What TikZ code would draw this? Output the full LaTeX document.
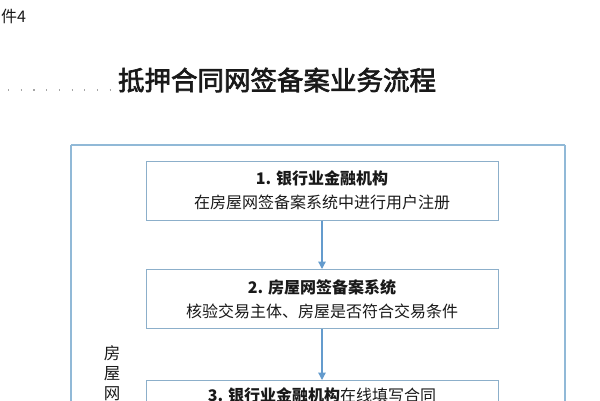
\documentclass[tikz,border=0pt]{standalone}
\usepackage{fontspec}
\setmainfont{Noto Sans CJK SC}
\newfontface\titlefont[FakeBold=2.5]{Noto Sans CJK SC}
\usepackage{tikz}
\usetikzlibrary{arrows.meta}
\definecolor{framecol}{RGB}{145,185,215}
\definecolor{boxcol}{RGB}{140,175,202}
\definecolor{arrowcol}{RGB}{100,155,205}
\definecolor{txtcol}{RGB}{25,25,25}
\pgfdeclarelayer{edgelayer}
\pgfdeclarelayer{nodelayer}
\pgfsetlayers{edgelayer,nodelayer,main}
\tikzstyle{none}=[inner sep=0pt]
\tikzstyle{empty}=[fill=none,draw=none,text=txtcol]
\tikzstyle{heading}=[empty,font=\fontsize{26.5}{30}\titlefont]
\tikzstyle{tag}=[empty,font=\fontsize{16}{18}\selectfont]
\tikzstyle{sidelabel}=[empty,inner sep=0pt,align=center,font=\fontsize{16.5}{20}\selectfont]
\tikzstyle{stepbox}=[rectangle,draw=boxcol,line width=1.000,fill=white,text=txtcol,minimum width=352,minimum height=59,align=center,font=\fontsize{16}{24}\selectfont]
\tikzstyle{flowarrow}=[-{Triangle[width=7.5pt,length=7.5pt]},draw=arrowcol,fill=arrowcol,line width=1.300]
\tikzstyle{simple}=[-,draw=framecol,line width=1.600]
\tikzstyle{dotline}=[-,draw=gray!70,line width=1.200,dash pattern=on 1.2pt off 11.5pt]

\begin{document}
\begin{tikzpicture}[x=1pt,y=-1pt]
	\useasboundingbox (0, 0) rectangle (600, 400);
	\begin{pgfonlayer}{nodelayer}
		\node [style=tag, anchor=west, inner sep=0pt] (annex) at (1, 16.5) {件4};
		\node [style=heading] (title) at (277, 80) {抵押合同网签备案业务流程};
		\node [style=none] (dotl) at (8, 90) {};
		\node [style=none] (dotr) at (118, 90) {};

		\node [style=none] (Ftl) at (71, 145) {};
		\node [style=none] (Ftr) at (565, 145) {};
		\node [style=none] (Fbl) at (71, 430) {};
		\node [style=none] (Fbr) at (565, 430) {};

		\node [style=sidelabel, anchor=north] (side) at (112, 345) {房\\屋\\网};

		\node [style=stepbox] (s1) at (322, 190.5) {\textbf{1. 银行业金融机构}\\在房屋网签备案系统中进行用户注册};
		\node [style=stepbox] (s2) at (322, 299) {\textbf{2. 房屋网签备案系统}\\核验交易主体、房屋是否符合交易条件};
		\node [style=stepbox] (s3) at (322, 410) {\textbf{3. 银行业金融机构}在线填写合同\\\strut};
	\end{pgfonlayer}
	\begin{pgfonlayer}{edgelayer}
		\draw [style=dotline] (dotl.center) to (dotr.center);
		\draw [style=simple] (Ftl.center) to (Ftr.center);
		\draw [style=simple] (Ftr.center) to (Fbr.center);
		\draw [style=simple] (Fbr.center) to (Fbl.center);
		\draw [style=simple] (Fbl.center) to (Ftl.center);
	\end{pgfonlayer}
	\draw [style=flowarrow] (s1) to (s2);
	\draw [style=flowarrow] (s2) to (s3);
\end{tikzpicture}
\end{document}
